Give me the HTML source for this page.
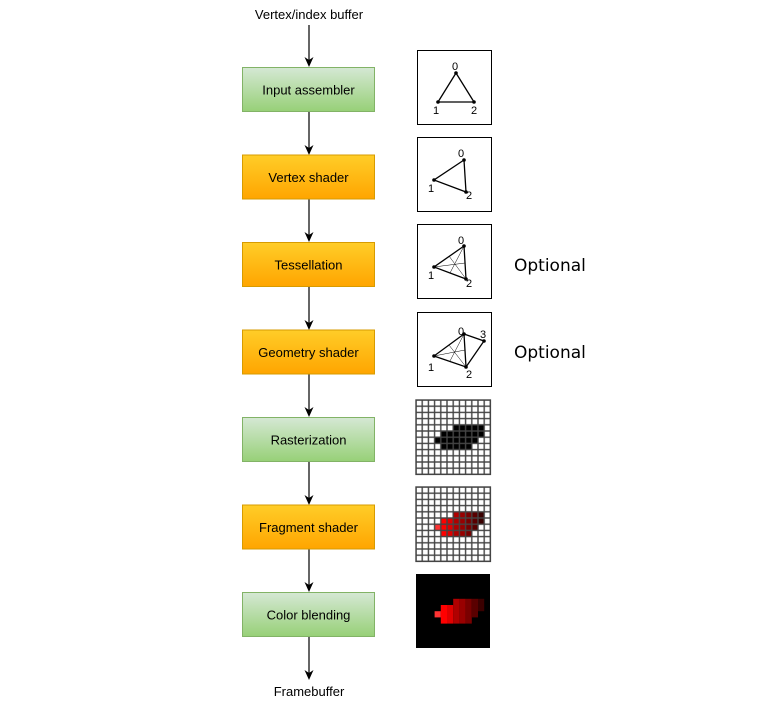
<!DOCTYPE html>
<html><head><style>body{margin:0;background:#fff}svg{display:block}</style></head><body>
<svg width="780" height="703" xmlns="http://www.w3.org/2000/svg" font-family="Liberation Sans, sans-serif">
<defs>
<linearGradient id="g" x1="0" y1="0" x2="0" y2="1"><stop offset="0" stop-color="#d5e8d4"/><stop offset="1" stop-color="#97d077"/></linearGradient>
<linearGradient id="o" x1="0" y1="0" x2="0" y2="1"><stop offset="0" stop-color="#ffcd28"/><stop offset="1" stop-color="#ffa500"/></linearGradient>
<pattern id="grid2" x="416" y="487" width="6.2" height="6.2" patternUnits="userSpaceOnUse"><rect width="6.2" height="6.2" fill="none" stroke="#444" stroke-width="1.4"/></pattern>
<pattern id="grid1" x="416" y="400" width="6.2" height="6.2" patternUnits="userSpaceOnUse"><rect width="6.2" height="6.2" fill="none" stroke="#444" stroke-width="1.4"/></pattern>
</defs>
<text x="309" y="19" font-size="13" text-anchor="middle">Vertex/index buffer</text>
<text x="309" y="696" font-size="13" text-anchor="middle">Framebuffer</text>
<g stroke="#000" stroke-width="1.2">
<line x1="309" y1="25" x2="309" y2="60"/>
<line x1="309" y1="112" x2="309" y2="148"/>
<line x1="309" y1="199" x2="309" y2="235"/>
<line x1="309" y1="287" x2="309" y2="323"/>
<line x1="309" y1="374" x2="309" y2="410"/>
<line x1="309" y1="462" x2="309" y2="498"/>
<line x1="309" y1="549" x2="309" y2="585"/>
<line x1="309" y1="637" x2="309" y2="673"/>
</g>
<g fill="#000">
<path d="M304.5,57 L309,67 L313.5,57 L309,60 Z"/>
<path d="M304.5,145 L309,155 L313.5,145 L309,148 Z"/>
<path d="M304.5,232 L309,242 L313.5,232 L309,235 Z"/>
<path d="M304.5,320 L309,330 L313.5,320 L309,323 Z"/>
<path d="M304.5,407 L309,417 L313.5,407 L309,410 Z"/>
<path d="M304.5,495 L309,505 L313.5,495 L309,498 Z"/>
<path d="M304.5,582 L309,592 L313.5,582 L309,585 Z"/>
<path d="M304.5,670 L309,680 L313.5,670 L309,673 Z"/>
</g>
<g stroke-width="1" font-size="13" text-anchor="middle">
<rect x="242.5" y="67.5" width="132" height="44" fill="url(#g)" stroke="#82b366"/><text x="308.5" y="94.5">Input assembler</text>
<rect x="242.5" y="155" width="132" height="44" fill="url(#o)" stroke="#d79b00"/><text x="308.5" y="182">Vertex shader</text>
<rect x="242.5" y="242.5" width="132" height="44" fill="url(#o)" stroke="#d79b00"/><text x="308.5" y="269.5">Tessellation</text>
<rect x="242.5" y="330" width="132" height="44" fill="url(#o)" stroke="#d79b00"/><text x="308.5" y="357">Geometry shader</text>
<rect x="242.5" y="417.5" width="132" height="44" fill="url(#g)" stroke="#82b366"/><text x="308.5" y="444.5">Rasterization</text>
<rect x="242.5" y="505" width="132" height="44" fill="url(#o)" stroke="#d79b00"/><text x="308.5" y="532">Fragment shader</text>
<rect x="242.5" y="592.5" width="132" height="44" fill="url(#g)" stroke="#82b366"/><text x="308.5" y="619.5">Color blending</text>
</g>
<text x="514" y="271" font-size="17" font-family="DejaVu Sans, sans-serif">Optional</text>
<text x="514" y="358" font-size="17" font-family="DejaVu Sans, sans-serif">Optional</text>
<g stroke="#000" fill="none">
<rect x="417.5" y="50.5" width="74" height="74"/>
<rect x="417.5" y="137.5" width="74" height="74"/>
<rect x="417.5" y="224.5" width="74" height="74"/>
<rect x="417.5" y="312.5" width="74" height="74"/>
<path d="M456,73 L438,102 L474,102 Z" stroke-width="1.3"/>
<path d="M464,160 L434,180 L466,192 Z" stroke-width="1.3"/>
<path d="M464,246 L434,267 L466,279 Z" stroke-width="1.3"/>
<path d="M464,246 L450,273 M434,267 L465,263 M466,279 L449,256" stroke-width="0.5"/>
<path d="M464,334 L434,356 L466,367 Z M464,334 L484,341 L466,367" stroke-width="1.3"/>
<path d="M464,334 L450,361 M434,356 L465,350 M466,367 L449,345" stroke-width="0.5"/>
</g>
<g fill="#000">
<circle cx="456" cy="73" r="1.8"/><circle cx="438" cy="102" r="1.8"/><circle cx="474" cy="102" r="1.8"/>
<circle cx="464" cy="160" r="1.8"/><circle cx="434" cy="180" r="1.8"/><circle cx="466" cy="192" r="1.8"/>
<circle cx="464" cy="246" r="1.8"/><circle cx="434" cy="267" r="1.8"/><circle cx="466" cy="279" r="1.8"/>
<circle cx="464" cy="334" r="1.8"/><circle cx="434" cy="356" r="1.8"/><circle cx="466" cy="367" r="1.8"/><circle cx="484" cy="341" r="1.8"/>
</g>
<g font-size="11">
<text x="452" y="70">0</text><text x="433" y="114">1</text><text x="471" y="114">2</text>
<text x="458" y="157">0</text><text x="428" y="192">1</text><text x="466" y="199">2</text>
<text x="458" y="244">0</text><text x="428" y="279">1</text><text x="466" y="287">2</text>
<text x="458" y="335">0</text><text x="480" y="338">3</text><text x="428" y="371">1</text><text x="466" y="378">2</text>
</g>
<rect x="416" y="400" width="74.4" height="74.4" fill="#fff"/>
<g fill="#000">
<rect x="453.2" y="424.8" width="31" height="6.2"/>
<rect x="440.8" y="431" width="43.4" height="6.2"/>
<rect x="434.6" y="437.2" width="43.4" height="6.2"/>
<rect x="440.8" y="443.4" width="31" height="6.2"/>
</g>
<rect x="416" y="400" width="74.4" height="74.4" fill="url(#grid1)" stroke="#444" stroke-width="1.4"/>
<g>
<rect x="453.2" y="511.8" width="6.2" height="24.8" fill="#b00000"/>
<rect x="459.4" y="511.8" width="6.2" height="24.8" fill="#990000"/>
<rect x="465.6" y="511.8" width="6.2" height="24.8" fill="#7a0000"/>
<rect x="471.8" y="511.8" width="6.2" height="18.6" fill="#5a0000"/>
<rect x="478" y="511.8" width="6.2" height="12.4" fill="#3a0000"/>
<rect x="434.6" y="524.2" width="6.2" height="6.2" fill="#ff3333"/>
<rect x="440.8" y="518" width="6.2" height="18.6" fill="#ff0000"/>
<rect x="447" y="518" width="6.2" height="18.6" fill="#e00000"/>
</g>
<rect x="416" y="487" width="74.4" height="74.4" fill="url(#grid2)" stroke="#444" stroke-width="1.4"/>
<rect x="416" y="574" width="74" height="74" fill="#000"/>
<g transform="translate(0,87)">
<rect x="453.2" y="511.8" width="6.2" height="24.8" fill="#b00000"/>
<rect x="459.4" y="511.8" width="6.2" height="24.8" fill="#990000"/>
<rect x="465.6" y="511.8" width="6.2" height="24.8" fill="#7a0000"/>
<rect x="471.8" y="511.8" width="6.2" height="18.6" fill="#5a0000"/>
<rect x="478" y="511.8" width="6.2" height="12.4" fill="#3a0000"/>
<rect x="434.6" y="524.2" width="6.2" height="6.2" fill="#ff3333"/>
<rect x="440.8" y="518" width="6.2" height="18.6" fill="#ff0000"/>
<rect x="447" y="518" width="6.2" height="18.6" fill="#e00000"/>
</g>
</svg>
</body></html>
